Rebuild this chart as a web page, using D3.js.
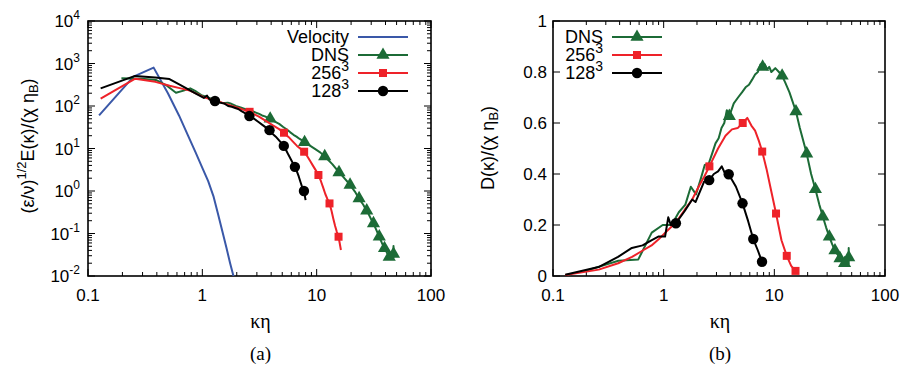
<!DOCTYPE html>
<html>
<head>
<meta charset="utf-8">
<script src="https://cdn.jsdelivr.net/npm/d3@7"></script>
<style>
body { margin: 0; background: #fff; }
svg text { font-family: "Liberation Sans", Arial, sans-serif; fill: #000; }
svg text.serif { font-family: "Liberation Serif", "DejaVu Serif", serif; }
</style>
</head>
<body>
<svg id="fig" width="907" height="368"></svg>
<script>
// ---- data: [kη, value] ----

// (a) spectra
var velocityE = [[0.125,60],[0.25,490],[0.375,800],[0.5,200],[0.625,60],[0.75,20],[0.875,8],[1.0,3.5],
	[1.125,1.7],[1.25,0.76],[1.375,0.28],[1.5,0.11],[1.625,0.046],[1.75,0.02],[1.875,0.0098],[2.0,0.005]];

var dnsE = [[0.196,450],[0.294,440],[0.392,410],[0.49,300],[0.588,205],[0.686,230],[0.784,260],[0.882,220],
	[0.98,180],[1.08,165],[1.18,150],[1.27,135],[1.37,130],[1.47,120],[1.57,118],[1.67,120],[1.76,115],
	[1.96,100],[2.16,92],[2.35,85],[2.55,78],[2.74,75],[2.94,70],[3.14,65],[3.33,60],[3.53,57],[3.72,53],
	[3.92,50],[4.31,43],[4.7,38],[5.1,32],[5.49,28],[5.88,24],[6.27,21],[6.66,19],[7.05,17],[7.45,15.5],
	[7.84,14],[8.8,11.5],[9.8,9.5],[10.8,8],[11.76,6.5],[12.7,5.3],[13.7,4.3],[14.7,3.4],[15.68,2.75],
	[16.7,2.3],[17.6,1.95],[18.6,1.65],[19.6,1.39],[20.6,1.15],[21.6,0.97],[22.5,0.8],[23.5,0.67],
	[24.5,0.56],[25.5,0.48],[26.5,0.4],[27.4,0.344],[28.4,0.29],[29.4,0.24],[30.4,0.2],[31.4,0.173],
	[32.3,0.145],[33.3,0.12],[34.3,0.1],[35.3,0.084],[36.3,0.07],[37.2,0.06],[38.2,0.052],[39.2,0.045],
	[40.2,0.04],[41.2,0.035],[42.1,0.031],[43.1,0.028],[45.1,0.027],[47.0,0.033],[47.0,0.051],[47.0,0.026]];
var dnsEMarks = [[3.92,50],[7.84,14],[11.76,6.5],[15.68,2.75],[19.6,1.39],[23.5,0.67],[27.4,0.344],
	[31.4,0.173],[35.3,0.084],[39.2,0.045],[43.1,0.028],[47.0,0.033]];

var les256E = [[0.129,150],[0.259,440],[0.388,370],[0.518,300],[0.647,260],[0.777,230],[0.906,190],
	[1.035,160],[1.165,145],[1.29,135],[1.42,125],[1.55,115],[1.81,100],[2.07,90],[2.33,80],[2.59,73],
	[3.1,57],[3.62,44],[4.14,35],[4.66,29],[5.18,23.5],[5.7,18.5],[6.2,14.5],[6.73,11.5],[7.25,9.8],
	[7.77,8.4],[8.3,6.5],[8.8,5],[9.3,3.9],[9.8,3.1],[10.36,2.38],[10.9,1.7],[11.4,1.2],[11.9,0.85],
	[12.4,0.65],[12.95,0.51],[13.5,0.34],[14.0,0.22],[14.5,0.15],[15.0,0.11],[15.54,0.084],[16.3,0.041]];
var les256EMarks = [[2.59,73],[5.18,23.5],[7.77,8.4],[10.36,2.38],[12.95,0.51],[15.54,0.084]];

var les128E = [[0.129,260],[0.258,510],[0.387,470],[0.516,430],[0.645,310],[0.774,236],[0.903,187],
	[1.03,155],[1.10,175],[1.16,140],[1.29,131],[1.42,120],[1.55,115],[1.68,100],[1.81,96],[1.94,90],
	[2.06,85],[2.2,76],[2.32,70],[2.45,64],[2.58,58],[2.84,50],[3.1,42],[3.35,36],[3.61,31],[3.87,27],
	[4.13,22],[4.39,19],[4.65,16],[4.9,13.5],[5.16,11.5],[5.42,9],[5.68,7],[5.94,5.6],[6.2,4.5],
	[6.45,3.7],[6.71,2.9],[6.97,2.2],[7.23,1.6],[7.49,1.2],[7.74,1.0],[8.0,0.61]];
var les128EMarks = [[1.29,131],[2.58,58],[3.87,27],[5.16,11.5],[6.45,3.7],[7.74,1.0]];

// (b) dissipation
var dnsD = [[0.196,0.02],[0.39,0.06],[0.59,0.065],[0.78,0.17],[0.98,0.2],[1.18,0.2],[1.37,0.25],
	[1.57,0.28],[1.76,0.35],[1.96,0.32],[2.16,0.38],[2.35,0.435],[2.55,0.44],[2.74,0.48],[2.94,0.52],
	[3.14,0.54],[3.33,0.58],[3.53,0.6],[3.72,0.65],[3.92,0.627],[4.3,0.677],[4.7,0.70],[5.1,0.72],
	[5.5,0.74],[5.9,0.75],[6.3,0.77],[6.7,0.79],[7.1,0.80],[7.5,0.83],[7.84,0.82],[8.2,0.83],[8.6,0.81],
	[9.0,0.82],[9.4,0.80],[10.2,0.815],[11.0,0.80],[11.76,0.785],[12.5,0.76],[13.7,0.72],[15.68,0.645],
	[17.0,0.58],[19.6,0.48],[21.5,0.40],[23.5,0.34],[25.5,0.28],[27.4,0.233],[29.4,0.19],[31.4,0.154],
	[33.3,0.125],[35.3,0.10],[37.2,0.085],[39.2,0.069],[41.2,0.06],[43.1,0.05],[45.1,0.055],[47.0,0.073],
	[47.0,0.11],[47.0,0.045]];
var dnsDMarks = [[3.92,0.627],[7.84,0.82],[11.76,0.785],[15.68,0.645],[19.6,0.48],[23.5,0.34],
	[27.4,0.233],[31.4,0.154],[35.3,0.10],[39.2,0.069],[43.1,0.05],[47.0,0.073]];

var les256D = [[0.129,0.004],[0.259,0.025],[0.388,0.05],[0.518,0.075],[0.647,0.1],[0.777,0.12],
	[0.906,0.145],[1.035,0.17],[1.29,0.21],[1.55,0.26],[1.81,0.3],[2.07,0.35],[2.33,0.39],[2.59,0.43],
	[3.1,0.5],[3.62,0.55],[4.14,0.575],[4.66,0.58],[5.18,0.60],[5.7,0.62],[6.2,0.59],[6.7,0.57],
	[7.25,0.53],[7.77,0.488],[8.5,0.42],[9.3,0.34],[10.36,0.245],[11.6,0.14],[12.95,0.079],[14.2,0.04],
	[15.54,0.02]];
var les256DMarks = [[2.59,0.43],[5.18,0.60],[7.77,0.488],[10.36,0.245],[12.95,0.079],[15.54,0.02]];

var les128D = [[0.129,0.005],[0.258,0.035],[0.387,0.075],[0.516,0.11],[0.645,0.12],[0.774,0.14],
	[0.903,0.155],[1.03,0.155],[1.10,0.23],[1.16,0.2],[1.29,0.207],[1.55,0.255],[1.81,0.3],[1.94,0.29],
	[2.32,0.37],[2.58,0.376],[2.84,0.40],[3.10,0.41],[3.35,0.43],[3.6,0.40],[3.87,0.399],[4.5,0.35],
	[5.16,0.285],[5.8,0.215],[6.45,0.145],[7.1,0.10],[7.74,0.056]];
var les128DMarks = [[1.29,0.207],[2.58,0.376],[3.87,0.399],[5.16,0.285],[6.45,0.145],[7.74,0.056]];

var xMajor = [0.1, 1, 10, 100];
var yMajorLog = [-2, -1, 0, 1, 2, 3, 4];        // exponents of 10
var yMajorLin = [0, 0.2, 0.4, 0.6, 0.8, 1];

var colors = { vel: "#3a58a8", dns: "#1c6b36", r256: "#ee2229", r128: "#000000" };

var svg = d3.select("#fig");

function panel(cfg) {
	var g = svg.append("g");
	var x = d3.scaleLog().domain([0.1, 100]).range([cfg.x0, cfg.x1]);
	var y = cfg.logY
		? d3.scaleLog().domain([1e-2, 1e4]).range([cfg.y1, cfg.y0])
		: d3.scaleLinear().domain([0, 1]).range([cfg.y1, cfg.y0]);

	g.append("clipPath").attr("id", cfg.id + "_clip")
		.append("rect")
		.attr("x", cfg.x0).attr("y", cfg.y0)
		.attr("width", cfg.x1 - cfg.x0).attr("height", cfg.y1 - cfg.y0);

	var ticks = g.append("g").attr("stroke", "#000").attr("stroke-width", 1);

	// x ticks, bottom + top, major and minor
	x.ticks().forEach(function (t) {
		var major = xMajor.indexOf(t) >= 0;
		var len = major ? 7 : 4;
		ticks.append("line").attr("x1", x(t)).attr("x2", x(t)).attr("y1", cfg.y1).attr("y2", cfg.y1 - len);
		ticks.append("line").attr("x1", x(t)).attr("x2", x(t)).attr("y1", cfg.y0).attr("y2", cfg.y0 + len);
	});
	xMajor.forEach(function (t) {
		g.append("text").attr("x", x(t)).attr("y", cfg.y1 + 25)
			.attr("text-anchor", "middle").attr("font-size", 17).text(t);
	});

	if (cfg.logY) {
		y.ticks().forEach(function (t) {
			var e = Math.log10(t);
			var major = Math.abs(e - Math.round(e)) < 1e-9;
			var len = major ? 7 : 4;
			ticks.append("line").attr("x1", cfg.x0).attr("x2", cfg.x0 + len).attr("y1", y(t)).attr("y2", y(t));
			ticks.append("line").attr("x1", cfg.x1).attr("x2", cfg.x1 - len).attr("y1", y(t)).attr("y2", y(t));
		});
		yMajorLog.forEach(function (e) {
			var t = g.append("text").attr("x", cfg.x0 - 8).attr("y", y(Math.pow(10, e)) + 6)
				.attr("text-anchor", "end").attr("font-size", 17);
			t.append("tspan").text("10");
			t.append("tspan").attr("dy", -8).attr("font-size", 12).text(e);
		});
	} else {
		yMajorLin.forEach(function (v) {
			ticks.append("line").attr("x1", cfg.x0).attr("x2", cfg.x0 + 7).attr("y1", y(v)).attr("y2", y(v));
			ticks.append("line").attr("x1", cfg.x1).attr("x2", cfg.x1 - 7).attr("y1", y(v)).attr("y2", y(v));
			g.append("text").attr("x", cfg.x0 - 6).attr("y", y(v) + 6)
				.attr("text-anchor", "end").attr("font-size", 17).text(v);
		});
	}

	// frame
	g.append("rect")
		.attr("x", cfg.x0).attr("y", cfg.y0)
		.attr("width", cfg.x1 - cfg.x0).attr("height", cfg.y1 - cfg.y0)
		.attr("fill", "none").attr("stroke", "#000").attr("stroke-width", 1.6);

	var line = d3.line()
		.x(function (d) { return x(d[0]); })
		.y(function (d) { return y(d[1]); });

	var plot = g.append("g").attr("clip-path", "url(#" + cfg.id + "_clip)");
	cfg.series.forEach(function (s) {
		plot.append("path").datum(s.data)
			.attr("d", line)
			.attr("fill", "none").attr("stroke", s.color)
			.attr("stroke-width", 2).attr("stroke-linejoin", "round");
		if (s.marks) {
			plot.selectAll(null).data(s.marks).enter()
				.append("path")
				.attr("transform", function (d) { return "translate(" + x(d[0]) + "," + y(d[1]) + ")"; })
				.attr("d", d3.symbol().type(s.symbol).size(s.size))
				.attr("fill", s.color);
		}
	});

	// legend
	var leg = g.append("g");
	cfg.series.forEach(function (s, i) {
		var ly = cfg.legY + i * 18;
		var t = leg.append("text").attr("x", cfg.legX).attr("y", ly + 6)
			.attr("text-anchor", "end").attr("font-size", 18);
		t.append("tspan").text(s.name);
		if (s.sup) t.append("tspan").attr("dy", -8).attr("font-size", 14).text(s.sup);
		leg.append("line")
			.attr("x1", cfg.legX + 9).attr("x2", cfg.legX + 59)
			.attr("y1", ly).attr("y2", ly)
			.attr("stroke", s.color).attr("stroke-width", 2);
		if (s.marks) {
			leg.append("path")
				.attr("transform", "translate(" + (cfg.legX + 34) + "," + ly + ")")
				.attr("d", d3.symbol().type(s.symbol).size(s.size))
				.attr("fill", s.color);
		}
	});

	// axis titles
	g.append("text").attr("class", "serif")
		.attr("x", (cfg.x0 + cfg.x1) / 2 + 1).attr("y", cfg.y1 + 52)
		.attr("text-anchor", "middle").attr("font-size", 20).text("κη");
	g.append("text").attr("class", "serif")
		.attr("x", (cfg.x0 + cfg.x1) / 2 + 1).attr("y", cfg.y1 + 84)
		.attr("text-anchor", "middle").attr("font-size", 19).text(cfg.tag);

	var yl = g.append("text")
		.attr("transform", "translate(" + cfg.yLabelX + "," + cfg.yLabelY + ") rotate(-90)")
		.attr("text-anchor", "middle").attr("font-size", 18);
	cfg.yLabel(yl);
}

var tri = { symbol: d3.symbolTriangle, size: 75 };
var sq = { symbol: d3.symbolSquare, size: 64 };
var circ = { symbol: d3.symbolCircle, size: 85 };

panel({
	id: "pa", x0: 88, x1: 431, y0: 21, y1: 276, logY: true, tag: "(a)",
	legX: 349, legY: 37, yLabelX: 34, yLabelY: 146,
	series: [
		{ name: "Velocity", color: colors.vel, data: velocityE },
		Object.assign({ name: "DNS", color: colors.dns, data: dnsE, marks: dnsEMarks }, tri),
		Object.assign({ name: "256", sup: "3", color: colors.r256, data: les256E, marks: les256EMarks }, sq),
		Object.assign({ name: "128", sup: "3", color: colors.r128, data: les128E, marks: les128EMarks }, circ)
	],
	yLabel: function (t) {
		t.append("tspan").text("(ε/ν)");
		t.append("tspan").attr("dy", -8).attr("font-size", 13).text("1/2");
		t.append("tspan").attr("dy", 8).text("E(κ)/(χ η");
		t.append("tspan").attr("dy", 4).attr("font-size", 13).text("B");
		t.append("tspan").attr("dy", -4).text(")");
	}
});

panel({
	id: "pb", x0: 553, x1: 885, y0: 21, y1: 276, logY: false, tag: "(b)",
	legX: 603, legY: 37, yLabelX: 494, yLabelY: 148,
	series: [
		Object.assign({ name: "DNS", color: colors.dns, data: dnsD, marks: dnsDMarks }, tri),
		Object.assign({ name: "256", sup: "3", color: colors.r256, data: les256D, marks: les256DMarks }, sq),
		Object.assign({ name: "128", sup: "3", color: colors.r128, data: les128D, marks: les128DMarks }, circ)
	],
	yLabel: function (t) {
		t.append("tspan").text("D(κ)/(χ η");
		t.append("tspan").attr("dy", 4).attr("font-size", 13).text("B");
		t.append("tspan").attr("dy", -4).text(")");
	}
});
</script>
</body>
</html>
